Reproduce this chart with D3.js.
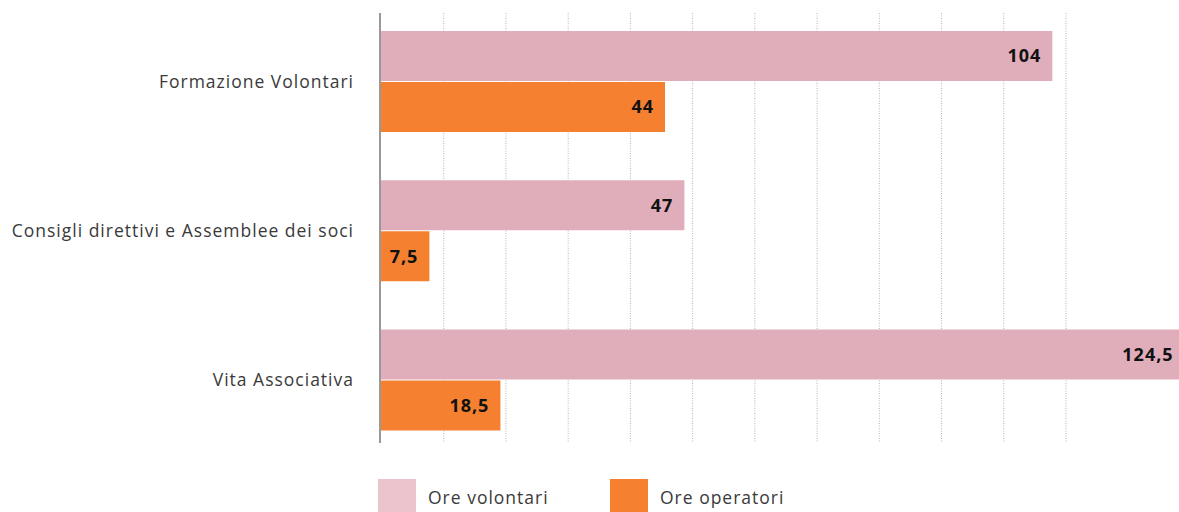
<!DOCTYPE html>
<html>
<head>
<meta charset="utf-8">
<script src="https://cdn.jsdelivr.net/npm/d3@7"></script>
<style>
  body { margin: 0; background: #fff; overflow: hidden; }
  svg { display: block; font-family: "Open Sans", sans-serif; }
</style>
</head>
<body>
<div id="chart"></div>
<script>
const categories = ['Formazione Volontari', 'Consigli direttivi e Assemblee dei soci', 'Vita Associativa'];
const seriesNames = ['Ore volontari', 'Ore operatori'];
const oreVolontari = [104, 47, 124.5];
const oreOperatori = [44, 7.5, 18.5];
const gridStep = 9.64;
const gridCount = 11;

const colors = { 'Ore volontari': '#e0adbb', 'Ore operatori': '#f58130' };
const legendColors = { 'Ore volontari': '#ebc4cd', 'Ore operatori': '#f58130' };

const width = 1179, height = 512;
const axisX = 381;

const svg = d3.select('#chart').append('svg')
  .attr('width', width)
  .attr('height', height);

const x = d3.scaleLinear()
  .domain([0, 100])
  .range([axisX, axisX + 645.5]);

const y = d3.scaleBand()
  .domain(categories)
  .range([31, 430.5])
  .paddingInner(0.3233)
  .paddingOuter(0);

const ySub = d3.scaleBand()
  .domain(seriesNames)
  .range([0, y.bandwidth()])
  .paddingInner(0.02);

// dotted grid lines
const gridVals = d3.range(1, gridCount + 1).map(i => i * gridStep);
svg.append('g')
  .selectAll('line')
  .data(gridVals)
  .enter()
  .append('line')
  .attr('x1', d => x(d) + 0.5)
  .attr('x2', d => x(d) + 0.5)
  .attr('y1', 13)
  .attr('y2', 443)
  .attr('stroke', '#b5b5b5')
  .attr('stroke-width', 1)
  .attr('stroke-dasharray', '1,1.5');

const rows = categories.map((c, i) => ({
  cat: c,
  values: [
    { key: 'Ore volontari', value: oreVolontari[i] },
    { key: 'Ore operatori', value: oreOperatori[i] }
  ]
}));

const groups = svg.append('g')
  .selectAll('g')
  .data(rows)
  .enter()
  .append('g')
  .attr('transform', d => `translate(0,${y(d.cat)})`);

groups.selectAll('rect')
  .data(d => d.values)
  .enter()
  .append('rect')
  .attr('x', x(0))
  .attr('y', d => ySub(d.key))
  .attr('width', d => x(d.value) - x(0))
  .attr('height', ySub.bandwidth())
  .attr('fill', d => colors[d.key]);

const fmt = v => String(v).replace('.', ',');

groups.selectAll('text.val')
  .data(d => d.values)
  .enter()
  .append('text')
  .attr('class', 'val')
  .attr('x', d => x(d.value) - 11)
  .attr('y', d => ySub(d.key) + ySub.bandwidth() / 2)
  .attr('dy', '0.36em')
  .attr('text-anchor', 'end')
  .attr('font-size', '18px')
  .attr('font-weight', '700')
  .attr('letter-spacing', '1px')
  .attr('fill', '#111')
  .text(d => fmt(d.value));

// category labels
svg.append('g')
  .selectAll('text')
  .data(categories)
  .enter()
  .append('text')
  .attr('x', 354)
  .attr('y', d => y(d) + y.bandwidth() / 2)
  .attr('dy', '0.36em')
  .attr('text-anchor', 'end')
  .attr('font-size', '17.5px')
  .attr('letter-spacing', '1px')
  .attr('fill', '#3a3a3a')
  .text(d => d);

// vertical axis line
svg.append('line')
  .attr('x1', 380)
  .attr('x2', 380)
  .attr('y1', 13)
  .attr('y2', 443)
  .attr('stroke', '#999')
  .attr('stroke-width', 2);

// legend
const legendX = [378, 610];
const legend = svg.append('g')
  .selectAll('g')
  .data(seriesNames)
  .enter()
  .append('g')
  .attr('transform', (d, i) => `translate(${legendX[i]},479)`);

legend.append('rect')
  .attr('width', 38)
  .attr('height', 38)
  .attr('fill', d => legendColors[d]);

legend.append('text')
  .attr('x', 50)
  .attr('y', 19)
  .attr('dy', '0.36em')
  .attr('font-size', '17.5px')
  .attr('letter-spacing', '1px')
  .attr('fill', '#3a3a3a')
  .text(d => d);
</script>
</body>
</html>
